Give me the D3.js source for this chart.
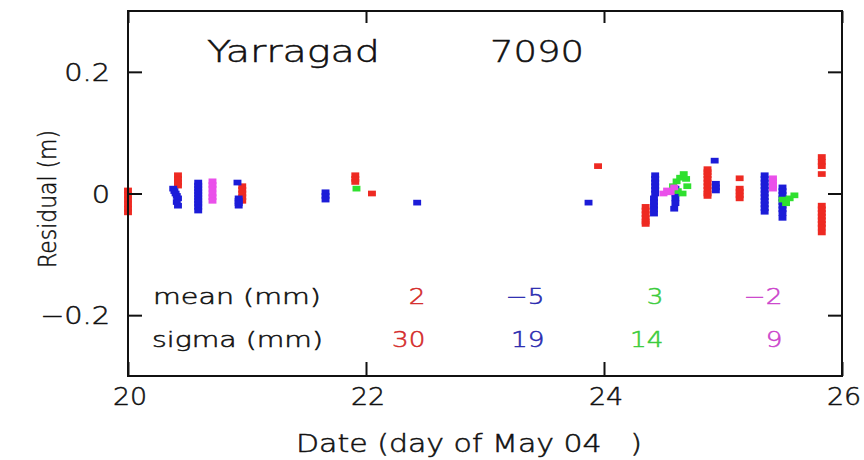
<!DOCTYPE html>
<html><head><meta charset="utf-8">
<script src="https://cdn.jsdelivr.net/npm/d3@7"></script>
<style>body{margin:0;background:#fff}svg{display:block}text{font-family:"DejaVu Sans",sans-serif;font-weight:200;fill:#111;stroke:#111;stroke-width:0.5px;white-space:pre}</style>
</head><body><svg id="c" width="864" height="460"></svg>
<script>
const xTicks=[20,22,24,26];
const yTicks=[-0.2,0,0.2];
const seriesNames=["red","blue","green","magenta"];
const seriesColors=["#ee2a22","#1c1cd8","#2fe02f","#ea50ea"];
const textColors=["#d42a2a","#2a2ab0","#3ccc3c","#cc44cc"];
const meanVals=["2","\u22125","3","\u22122"];
const sigmaVals=["30","19","14","9"];
const statCols=[22.5,23.5,24.5,25.5];

const redDays=[20.0,20.0,20.0,20.0,20.0,20.0, 20.42,20.42,20.42,20.42, 20.96,20.96,20.96,20.96,20.96, 21.91,21.91,21.91, 22.05, 23.95, 24.35,24.35,24.35,24.35,24.35,24.35, 24.87,24.87,24.87,24.87,24.87,24.87,24.87,24.87,24.87, 25.14,25.14,25.14,25.14,25.14, 25.83,25.83,25.83,25.83,25.83,25.83,25.83,25.83,25.83,25.83,25.83,25.83];
const redVals=[0.005,-0.002,-0.01,-0.018,-0.025,-0.031, 0.03,0.024,0.018,0.013, 0.012,0.006,0.0,-0.006,-0.012, 0.03,0.024,0.019, 0.0, 0.045, -0.022,-0.028,-0.034,-0.04,-0.046,-0.05, 0.04,0.035,0.03,0.024,0.018,0.012,0.006,0.0,-0.004, 0.025,0.008,0.003,-0.003,-0.008, 0.06,0.052,0.045,0.032,-0.02,-0.026,-0.032,-0.038,-0.044,-0.05,-0.056,-0.064];

const blueDays=[20.38,20.39,20.4,20.41,20.42,20.41,20.42, 20.59,20.59,20.59,20.59,20.59,20.59,20.59,20.59,20.59,20.59, 20.92,20.93,20.93,20.93,20.93, 21.66,21.66,21.66, 22.43, 23.87, 24.43,24.43,24.43,24.43,24.43,24.43,24.42,24.42,24.42,24.42,24.42, 24.6,24.6,24.6,24.6,24.59, 24.93,24.94,24.94,24.94, 25.35,25.35,25.35,25.35,25.35,25.35,25.35,25.35,25.35,25.35,25.35, 25.5,25.5,25.5,25.5,25.5,25.5,25.5,25.5,25.5];
const blueVals=[0.008,0.004,0.0,-0.004,-0.008,-0.014,-0.02, 0.018,0.013,0.008,0.003,-0.002,-0.007,-0.012,-0.017,-0.022,-0.028, 0.018,-0.008,-0.012,-0.016,-0.02, 0.002,-0.004,-0.01, -0.015, -0.015, 0.03,0.024,0.018,0.012,0.006,0.0,-0.008,-0.014,-0.02,-0.026,-0.033, 0.008,0.0,-0.008,-0.016,-0.025, 0.054,0.016,0.01,0.005, 0.03,0.024,0.018,0.012,0.006,0.0,-0.006,-0.012,-0.018,-0.024,-0.03, 0.01,0.004,-0.002,-0.008,-0.014,-0.02,-0.026,-0.032,-0.04];

const greenDays=[21.92, 24.58,24.61,24.64,24.67,24.69,24.62,24.66,24.7, 25.5,25.53,25.56,25.6];
const greenVals=[0.008, 0.012,0.02,0.026,0.032,0.024,0.004,0.0,0.012, -0.01,-0.016,-0.008,-0.003];

const magentaDays=[20.71,20.71,20.71,20.71,20.71,20.71, 24.5,24.53,24.56,24.59, 25.42,25.42,25.42,25.42];
const magentaVals=[0.02,0.014,0.008,0.0,-0.006,-0.012, 0.0,0.005,0.002,0.01, 0.025,0.02,0.014,0.008];

const allDays=[redDays,blueDays,greenDays,magentaDays];
const allVals=[redVals,blueVals,greenVals,magentaVals];

const svg=d3.select("#c");
const L=128,R=842,T=11,B=376;
const x=d3.scaleLinear().domain([20,26]).range([L,R]);
const y=d3.scaleLinear().domain([-0.3,0.3]).range([B,T]);

// points
const sym=d3.symbol().type(d3.symbolSquare).size(40);
seriesNames.forEach((n,i)=>{
  const pts=allDays[i].map((d,j)=>[d,allVals[i][j]]);
  svg.append("g").selectAll("path").data(pts).join("path")
    .attr("d",sym).attr("transform",d=>`translate(${x(d[0])},${y(d[1])}) scale(1.25,0.9)`)
    .attr("fill",seriesColors[i]);
});

// frame
svg.append("rect").attr("x",L).attr("y",T).attr("width",R-L).attr("height",B-T)
  .attr("fill","none").attr("stroke","#111").attr("stroke-width",2);

function txt(px,py,s,size,sx,anchor,color,rot,len){
  const t=svg.append("text")
    .attr("transform",`translate(${px},${py})${rot?` rotate(${rot})`:""} scale(${sx},1)`)
    .attr("font-size",size).attr("text-anchor",anchor||"start").text(s);
  if(len) t.attr("textLength",len).attr("lengthAdjust","spacingAndGlyphs");
  if(color) t.style("fill",color).style("stroke",color);
  return t;
}

// axes with inward ticks
const fmtY=d=>d===0?"0":d3.format(".1f")(d).replace("-","\u2212");
svg.append("g").attr("transform",`translate(0,${B})`)
  .call(d3.axisBottom(x).tickValues(xTicks).tickSize(-14).tickFormat(""))
  .call(g=>{g.select(".domain").remove();g.selectAll("line").attr("stroke","#111").attr("stroke-width",2);});
svg.append("g").attr("transform",`translate(0,${T})`)
  .call(d3.axisTop(x).tickValues(xTicks).tickSize(-12).tickFormat(""))
  .call(g=>{g.select(".domain").remove();g.selectAll("line").attr("stroke","#111").attr("stroke-width",2);});
svg.append("g").attr("transform",`translate(${L},0)`)
  .call(d3.axisLeft(y).tickValues(yTicks).tickSize(-14).tickFormat(""))
  .call(g=>{g.select(".domain").remove();g.selectAll("line").attr("stroke","#111").attr("stroke-width",2);});
svg.append("g").attr("transform",`translate(${R},0)`)
  .call(d3.axisRight(y).tickValues(yTicks).tickSize(-14).tickFormat(""))
  .call(g=>{g.select(".domain").remove();g.selectAll("line").attr("stroke","#111").attr("stroke-width",2);});

xTicks.forEach(v=>txt(x(v)+2,405,String(v),24,1.12,"middle"));
yTicks.forEach(v=>txt(110,y(v)+9,fmtY(v),24,1.2,"end"));

// titles
txt(207,62,"Yarragad",30,1,null,null,0,173);
txt(490,62,"7090",30,1,null,null,0,94);
txt(56,199,"Residual (m)",24,1,"middle",null,-90,138);
txt(296,452,"Date (day of May 04   )",24,1,null,null,0,346);

// stats
txt(153,304,"mean (mm)",21,1,null,null,0,168);
txt(152,347,"sigma (mm)",21,1,null,null,0,171);
statCols.forEach((c,i)=>{
  txt(x(c),304,meanVals[i],21,1.25,"end",textColors[i]);
  txt(x(c),347,sigmaVals[i],21,1.25,"end",textColors[i]);
});
</script></body></html>
